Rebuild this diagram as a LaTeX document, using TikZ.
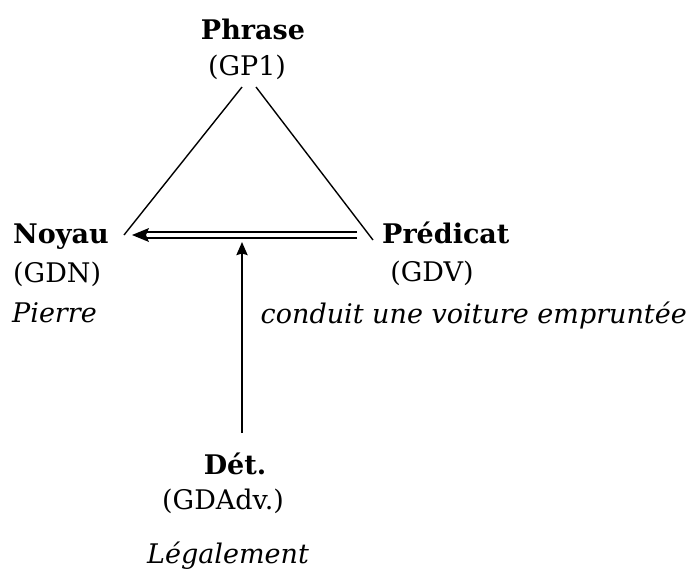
\documentclass[tikz,border=0pt]{standalone}
\usepackage{fontspec}
\setmainfont{DejaVu Serif}
\usetikzlibrary{arrows.meta}
\tikzset{
  lbl/.style={inner sep=0pt, font=\fontsize{27}{31}\selectfont\bfseries, anchor=base},
  sub/.style={inner sep=0pt, font=\fontsize{27}{31}\selectfont, anchor=base},
  ex/.style={inner sep=0pt, font=\fontsize{27}{31}\selectfont\itshape, anchor=base},
  side/.style={line width=1.4pt},
  heavy/.style={line width=2.2pt}
}
\begin{document}
\begin{tikzpicture}[x=1pt,y=-1pt]
\useasboundingbox (0,0) rectangle (693,571);
% top
\node[lbl] (phrase) at (253,39) {Phrase};
\node[sub] (gp1) at (247,75) {(GP1)};
% left
\node[lbl, anchor=base west] (noyau) at (13,243) {Noyau};
\node[sub, anchor=base west] (gdn) at (13,282) {(GDN)};
\node[ex, anchor=base west] (pierre) at (12,322) {Pierre};
% right
\node[lbl, anchor=base west] (pred) at (382,243) {Prédicat};
\node[sub] (gdv) at (432,281) {(GDV)};
\node[ex, anchor=base east] (conduit) at (687,323) {conduit une voiture empruntée};
% bottom
\node[lbl] (det) at (235,474) {Dét.};
\node[sub] (gdadv) at (223,509) {(GDAdv.)};
\node[ex] (leg) at (228,563) {Légalement};
% connector end points
\coordinate (tl) at (242,87);
\coordinate (tr) at (256,87);
\coordinate (nl) at (124,235);
\coordinate (pr) at (373,240);
\coordinate (dr) at (357,235);
\coordinate (dl) at (146,235);
\coordinate (tip) at (132,235);
\coordinate (vb) at (242,433);
\coordinate (vt) at (242,242);
% triangle sides
\draw[side] (tl) -- (nl);
\draw[side] (tr) -- (pr);
% double arrow
\draw[heavy] ([yshift=-3.3pt]dr) -- ([yshift=-3.3pt]dl);
\draw[heavy] ([yshift=3.3pt]dr) -- ([yshift=3.3pt]dl);
\fill (tip) -- ++(17,-7) -- ++(-3,7) -- ++(3,7) -- cycle;
% vertical arrow
\draw[heavy, -{Stealth[length=13pt,width=11pt,inset=1.5pt]}] (vb) -- (vt);
\end{tikzpicture}
\end{document}
